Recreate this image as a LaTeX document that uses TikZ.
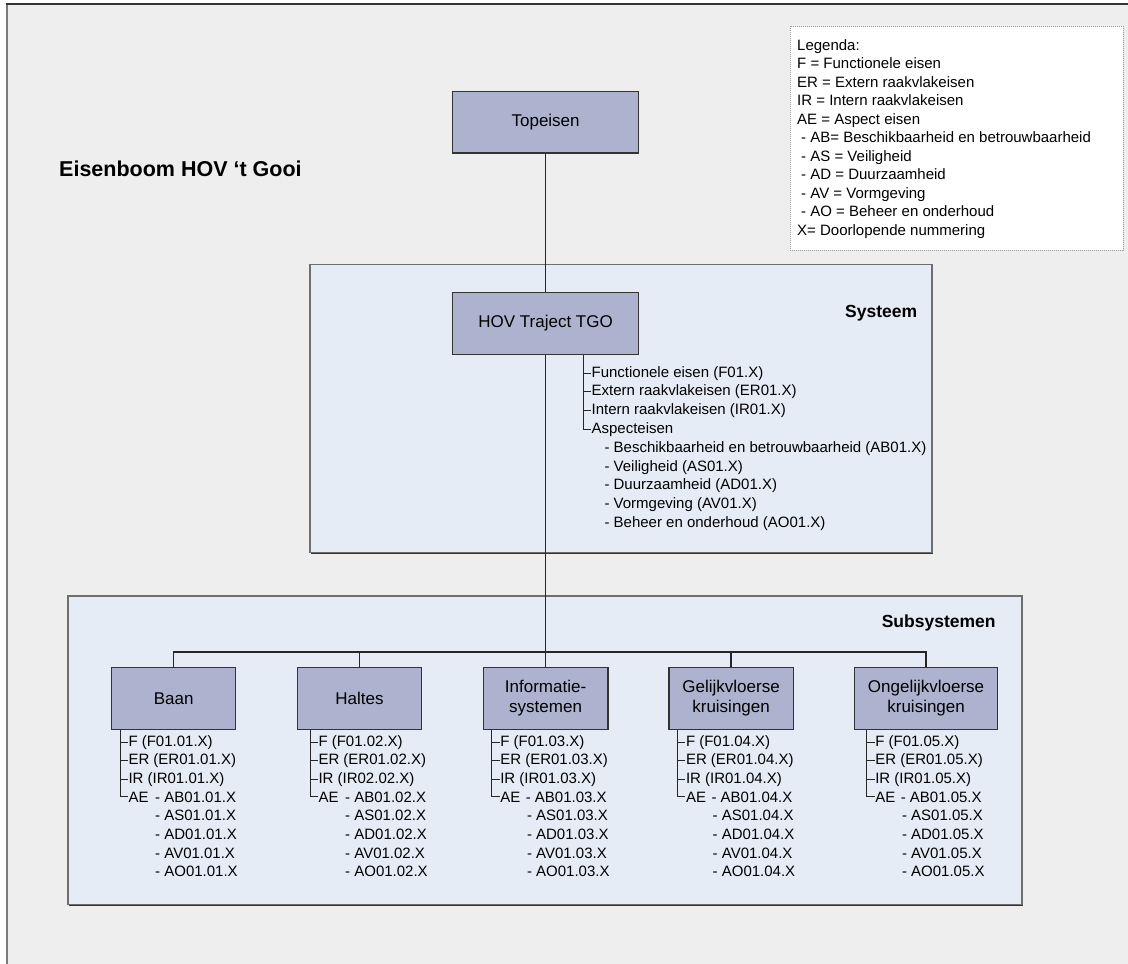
\documentclass[tikz,border=0pt]{standalone}
\usepackage{fontspec}
\setmainfont{Liberation Sans}
\usetikzlibrary{calc,shadows}
\definecolor{pagebg}{HTML}{EEEEEE}
\definecolor{sysfill}{HTML}{E6ECF6}
\definecolor{boxfill}{HTML}{ADB3CE}
\definecolor{boxedge}{HTML}{333333}
\definecolor{bigedge}{HTML}{6E6E6E}
\definecolor{lgedge}{HTML}{9A9A9A}
\definecolor{frameleft}{HTML}{7A7A7A}
\definecolor{frametop}{HTML}{333333}
\begin{document}
\begin{tikzpicture}[x=1pt,y=-1pt,
  bigbox/.style={draw=bigedge, line width=1.6pt, fill=sysfill, inner sep=0pt,
     drop shadow={shadow xshift=1.2pt, shadow yshift=-1.3pt, fill=black!80, opacity=1}},
  reqbox/.style={draw=boxedge, line width=1.2pt, fill=boxfill, inner sep=0pt, align=center,
     minimum height=61.6pt, font=\fontsize{17}{20}\selectfont},
  legendbox/.style={draw=lgedge, line width=0.8pt, dash pattern=on 1pt off 1pt, fill=white, inner sep=0pt},
  conn/.style={draw=black!85, line width=1.3pt},
  br/.style={draw=black!85, line width=0.9pt},
  lt/.style={anchor=base west, inner sep=0pt, font=\fontsize{15}{18}\selectfont},
  head/.style={font=\bfseries\fontsize{17.5}{20}\selectfont, inner sep=0pt},
]
\useasboundingbox (0,0) rectangle (1128,964);
\fill[white] (0,0) rectangle (1128,964);
\fill[pagebg] (7,4) rectangle (1128,964);
\draw[frameleft, line width=2pt] (7,964) -- (7,4);
\draw[frametop, line width=1.3pt] (6,4) -- (1128,4);

% title
\node[anchor=base west, inner sep=0pt, font=\bfseries\fontsize{21.5}{24}\selectfont] (title) at (59,176) {Eisenboom HOV ‘t Gooi};

% legend
\node[legendbox, anchor=north west, minimum width=333pt, minimum height=224pt] (legend) at (790,26) {};
\node[lt] (lg1) at (797,50) {Legenda:};
\node[lt] (lg2) at (797,68.5) {F = Functionele eisen};
\node[lt] (lg3) at (797,87) {ER = Extern raakvlakeisen};
\node[lt] (lg4) at (797,105.5) {IR = Intern raakvlakeisen};
\node[lt] (lg5) at (797,124) {AE = Aspect eisen};
\node[lt] (lg6) at (801,142.5) {- AB= Beschikbaarheid en betrouwbaarheid};
\node[lt] (lg7) at (801,161) {- AS = Veiligheid};
\node[lt] (lg8) at (801,179.5) {- AD = Duurzaamheid};
\node[lt] (lg9) at (801,198) {- AV = Vormgeving};
\node[lt] (lg10) at (801,216.5) {- AO = Beheer en onderhoud};
\node[lt] (lg11) at (797,235) {X= Doorlopende nummering};

% big boxes
\node[bigbox, minimum width=622pt, minimum height=288pt] (sys) at (621,408.3) {};
\node[bigbox, minimum width=954pt, minimum height=308.6pt] (subs) at (545,750) {};
\node[head] (systeem) at (881.2,313.3) {Systeem};
\node[head] (subsystemen) at (938.7,623) {Subsystemen};

% requirement boxes
\node[reqbox, minimum width=186pt] (top) at (545.6,122.2) {Topeisen};
\node[reqbox, minimum width=186pt] (hov) at (545.6,323.5) {HOV Traject TGO};
\node[reqbox, minimum width=124pt] (baan) at (173.7,698.5) {Baan};
\node[reqbox, minimum width=124.4pt] (halt) at (359.5,698.5) {Haltes};
\node[reqbox, minimum width=124.6pt] (info) at (545.6,698.5) {Informatie-\\systemen};
\node[reqbox, minimum width=124.2pt] (gelijk) at (731.1,698.5) {Gelijkvloerse\\kruisingen};
\node[reqbox, minimum width=143pt] (ongelijk) at (926.1,698.5) {Ongelijkvloerse\\kruisingen};

% connectors
\coordinate (bus) at (545.6,652);
\draw[conn] (top.south) -- (hov.north);
\draw[conn] (hov.south) -- (bus);
\draw[conn] (baan.north) -- (baan.north |- bus) -- (ongelijk.north |- bus) -- (ongelijk.north);
\draw[conn] (halt.north) -- (halt.north |- bus);
\draw[conn] (info.north) -- (info.north |- bus);
\draw[conn] (gelijk.north) -- (gelijk.north |- bus);

% system list
\node[lt] (sf) at (591.4,377) {Functionele eisen (F01.X)};
\node[lt] (ser) at (591.4,395.8) {Extern raakvlakeisen (ER01.X)};
\node[lt] (sir) at (591.4,414.6) {Intern raakvlakeisen (IR01.X)};
\node[lt] (sasp) at (591.4,433.4) {Aspecteisen};
\node[lt] (sab) at (604.3,452.2) {- Beschikbaarheid en betrouwbaarheid (AB01.X)};
\node[lt] (sas) at (604.3,471) {- Veiligheid (AS01.X)};
\node[lt] (sad) at (604.3,489.8) {- Duurzaamheid (AD01.X)};
\node[lt] (sav) at (604.3,508.6) {- Vormgeving (AV01.X)};
\node[lt] (sao) at (604.3,527.4) {- Beheer en onderhoud (AO01.X)};
\draw[br] ([xshift=-8pt]sf.west |- hov.south) |- ([xshift=-0.5pt]sasp.west);
\foreach \n in {sf,ser,sir}
  \draw[br] ([xshift=-8pt]\n.west) -- ([xshift=-0.5pt]\n.west);

% subsystem lists
\foreach \nm/\bx/\c/\ir/\ae in {baan/120/01.01/01.01/26.7, halt/310/01.02/02.02/26.7, info/491.8/01.03/01.03/25.5, gelijk/677.5/01.04/01.04/25.5, ongelijk/866.8/01.05/01.05/25.5}{
  \node[lt] (\nm-f) at (\bx+8.3,746) {F (F\c.X)};
  \node[lt] (\nm-er) at (\bx+8.3,764.7) {ER (ER\c.X)};
  \node[lt] (\nm-ir) at (\bx+8.3,783.4) {IR (IR\ir.X)};
  \node[lt] (\nm-ae) at (\bx+8.3,802.1) {\makebox[\ae pt][l]{AE}- AB\c.X};
  \node[lt] (\nm-as) at (\bx+35,820.8) {- AS\c.X};
  \node[lt] (\nm-ad) at (\bx+35,839.5) {- AD\c.X};
  \node[lt] (\nm-av) at (\bx+35,858.2) {- AV\c.X};
  \node[lt] (\nm-ao) at (\bx+35,876.9) {- AO\c.X};
  \draw[br] ([xshift=-8.3pt]\nm-f.west |- \nm.south) |- ([xshift=-0.5pt]\nm-ae.west);
  \draw[br] ([xshift=-8.3pt]\nm-f.west) -- ([xshift=-0.5pt]\nm-f.west);
  \draw[br] ([xshift=-8.3pt]\nm-er.west) -- ([xshift=-0.5pt]\nm-er.west);
  \draw[br] ([xshift=-8.3pt]\nm-ir.west) -- ([xshift=-0.5pt]\nm-ir.west);
}
\end{tikzpicture}
\end{document}
